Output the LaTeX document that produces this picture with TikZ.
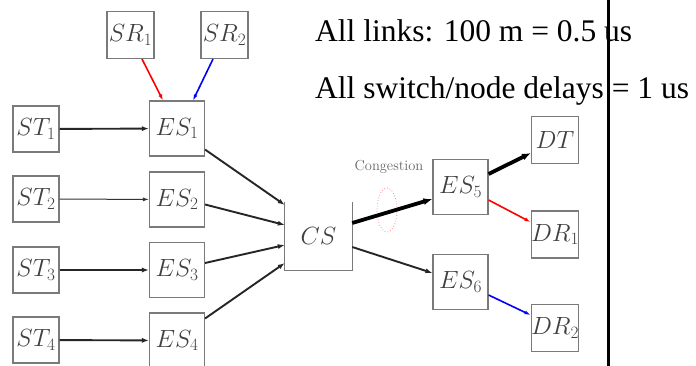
\documentclass[tikz,border=0pt]{standalone}
\usepackage{fontspec}
\newfontfamily\tnr{Liberation Serif}
\usetikzlibrary{arrows.meta}
\definecolor{boxline}{HTML}{7A7A7A}
\definecolor{boxtext}{HTML}{404040}
\tikzset{
  box/.style={draw=boxline, line width=1.1pt, minimum width=#1, minimum height=#1, inner sep=0pt, text=boxtext, font=\fontsize{23.5}{23.5}\selectfont},
  link/.style={-{Latex[length=7pt,width=5pt]}, line width=1.9pt, black!85},
  thinlink/.style={-{Latex[length=6pt,width=4pt]}, line width=1pt, black!80},
  fatlink/.style={-{Latex[length=9pt,width=7pt]}, line width=3.8pt, black},
  redlink/.style={-{Latex[length=6pt,width=4pt]}, line width=1.6pt, red},
  bluelink/.style={-{Latex[length=6pt,width=4pt]}, line width=1.6pt, blue},
}
\begin{document}
\begin{tikzpicture}[x=1pt,y=-1pt]
\useasboundingbox (0,0) rectangle (696,366);
\fill[white] (0,0) rectangle (696,366);

\node[box=47pt] (SR1) at (130.5,35) {$SR_1$};
\node[box=47pt] (SR2) at (224.5,35) {$SR_2$};
\node[box=46pt] (ST1) at (36,129) {$ST_1$};
\node[box=46pt] (ST2) at (36,199) {$ST_2$};
\node[box=46pt] (ST3) at (36,270) {$ST_3$};
\node[box=46pt] (ST4) at (36,340) {$ST_4$};
\node[box=55pt] (ES1) at (177,128.5) {$ES_1$};
\node[box=55pt] (ES2) at (177,199.5) {$ES_2$};
\node[box=55pt] (ES3) at (177,270) {$ES_3$};
\node[box=55pt] (ES4) at (177,340.5) {$ES_4$};
\node[inner sep=0pt, minimum width=67pt, minimum height=68pt, text=boxtext, font=\fontsize{23.5}{23.5}\selectfont] (CS) at (318.5,236) {$CS$};
\draw[boxline, line width=1.1pt] (CS.north west) -- (CS.south west) -- (CS.south east) -- (CS.north east);
\node[box=55pt] (ES5) at (460.5,187) {$ES_5$};
\node[box=55pt] (ES6) at (460.5,282) {$ES_6$};
\node[box=47pt] (DT) at (555,140) {$DT$};
\node[box=47pt] (DR1) at (555,234.5) {$DR_1$};
\node[box=47pt] (DR2) at (555,328) {$DR_2$};

\node[anchor=base, inner sep=0pt, text=black!60, font=\fontsize{14.5}{14.5}\selectfont] (cong) at (389,171) {Congestion};
\draw[red!45, dotted, line width=0.8pt] (387,210) ellipse [x radius=10pt, y radius=22pt];

\node[anchor=base west, inner sep=0pt, font=\tnr\fontsize{31.5}{36}\selectfont] (t1) at (315,42) {All links: 100 m = 0.5 us};
\node[anchor=base west, inner sep=0pt, font=\tnr\fontsize{31.5}{36}\selectfont] (t2) at (315,99) {All switch/node delays = 1 us};

\coordinate (vtop) at (608,0);
\coordinate (vbot) at (608,366);
\draw[line width=3pt, black] (vtop) -- (vbot);

\draw[link] (ST1) -- (ES1);
\draw[thinlink] (ST2) -- (ES2);
\draw[link] (ST3) -- (ES3);
\draw[link] (ST4) -- (ES4);
\draw[redlink] ([xshift=11.5pt]SR1.south) -- ([xshift=-14pt]ES1.north);
\draw[bluelink] ([xshift=-11.5pt]SR2.south) -- ([xshift=16pt]ES1.north);
\draw[link] ([yshift=7pt]ES1.south east) -- ([yshift=31pt]CS.west);
\draw[link] ([yshift=-5pt]ES2.east) -- ([yshift=11pt]CS.west);
\draw[link] ([yshift=7pt]ES3.east) -- ([yshift=-9pt]CS.west);
\draw[link] ([yshift=22pt]ES4.east) -- ([yshift=-27pt]CS.west);
\draw[fatlink] ([yshift=13pt]CS.east) -- ([yshift=-12pt]ES5.west);
\draw[link] ([yshift=-11pt]CS.east) -- ([yshift=9pt]ES6.west);
\draw[fatlink] ([yshift=13pt]ES5.east) -- ([yshift=-13pt]DT.west);
\draw[redlink] ([yshift=-13pt]ES5.east) -- ([yshift=12.5pt]DR1.west);
\draw[bluelink] ([yshift=-13pt]ES6.east) -- ([yshift=13pt]DR2.west);
\end{tikzpicture}
\end{document}
